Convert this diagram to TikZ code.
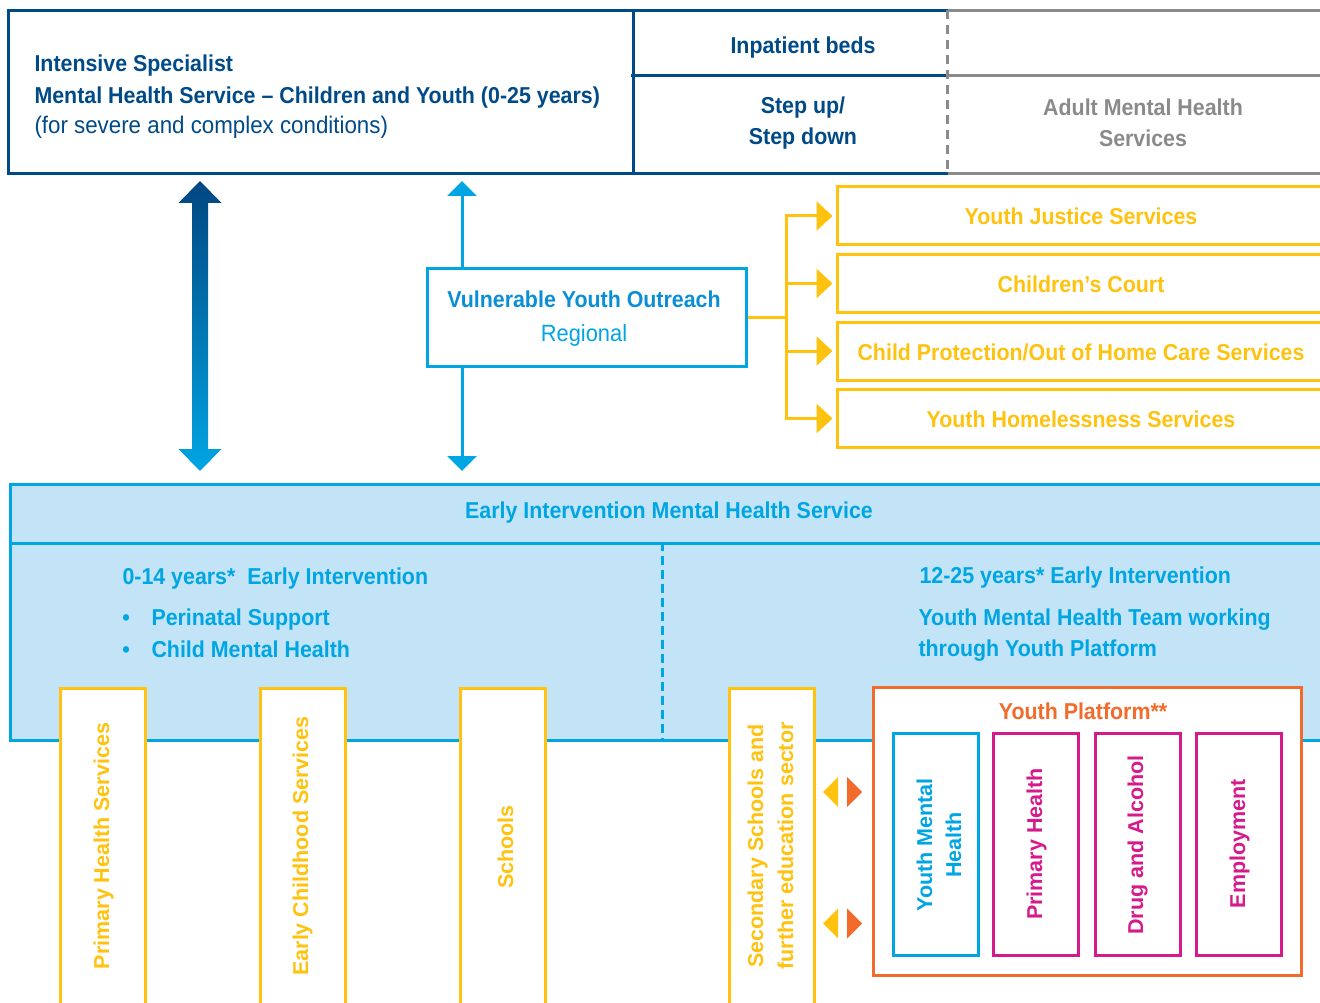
\documentclass[tikz,border=0pt]{standalone}
\usepackage{fontspec}
\setmainfont{Liberation Sans}[FakeStretch=0.93]
\newfontfamily\widefont{Liberation Sans}
\usetikzlibrary{arrows.meta,calc}

\definecolor{navy}{HTML}{004A87}
\definecolor{eicyan}{HTML}{00A5E3}
\definecolor{vyoblue}{HTML}{0A8ED6}
\definecolor{eiblue}{HTML}{C2E4F6}
\definecolor{ygold}{HTML}{FFC20E}
\definecolor{yporange}{HTML}{F26B2B}
\definecolor{ypmagenta}{HTML}{D61A8C}
\definecolor{adultgrey}{HTML}{8A8A8A}

\begin{document}
\begin{tikzpicture}[x=1pt, y=-1pt, line width=3pt,
  box/.style={draw, rectangle, inner sep=0pt},
  lbl/.style={inner sep=0pt, anchor=base, font=\fontsize{23}{27}\selectfont\bfseries},
  reg/.style={inner sep=0pt, anchor=base, font=\fontsize{23.5}{28}\selectfont},
  vlbl/.style={inner sep=0pt, anchor=base, rotate=90, font=\widefont\fontsize{21.5}{30}\selectfont\bfseries},
  tip/.style={-{Triangle[width=29pt,length=15pt]}}]
\useasboundingbox (0,0) rectangle (1320,1003);
\clip (0,0) rectangle (1320,1003);

% intensive specialist row
\node[box, draw=none, minimum width=622pt, minimum height=160pt] (ismhs) at (321,92) {};
\node[box, draw=none, minimum width=314pt, minimum height=62pt] (beds) at (789,43) {};
\node[box, draw=none, minimum width=314pt, minimum height=98pt] (stepup) at (789,123) {};
\draw[navy] (beds.north east) -- (ismhs.north west) -- (ismhs.south west) -- (stepup.south east);
\draw[navy] (ismhs.north east) -- (ismhs.south east);
\draw[navy] (beds.south west) -- (beds.south east);
% adult services, cut at the right
\draw[adultgrey] (beds.north east) -- ++(380,0) (beds.south east) -- ++(380,0)
  (stepup.south east) -- ++(380,0);
\draw[adultgrey, dash pattern=on 9pt off 6pt] (beds.north east) -- (stepup.south east);

\node[lbl, navy, anchor=base west] (ismhs1) at (33,72) {Intensive Specialist};
\node[lbl, navy, anchor=base west] (ismhs2) at (33,104) {Mental Health Service – Children and Youth (0-25 years)};
\node[reg, navy, anchor=base west, font=\fontsize{24}{28}\selectfont] (ismhs3) at (33,134) {(for severe and complex conditions)};
\node[lbl, navy] (bedst) at (803,54) {Inpatient beds};
\node[lbl, navy] (step1) at (803,114) {Step up/};
\node[lbl, navy] (step2) at (803,145) {Step down};
\node[lbl, adultgrey] (adult1) at (1143,116) {Adult Mental Health};
\node[lbl, adultgrey] (adult2) at (1143,147) {Services};

% big two-way arrow
\coordinate (bigtop) at (200,181);
\coordinate (bigbot) at (200,471);
\shade[top color=navy!95!black, bottom color=eicyan] (bigtop) -- ++(21.5,22) -- ++(-13.5,0)
  -- ($(bigbot)+(8,-22)$) -- ++(13.5,0) -- (bigbot) -- ++(-21.5,-22) -- ++(13.5,0)
  -- ($(bigtop)+(-8,22)$) -- ++(-13.5,0) -- cycle;

% vulnerable youth outreach
\node[box, draw=eicyan, minimum width=319pt, minimum height=98pt] (vyo) at (586.5,317) {};
\node[lbl, vyoblue] (vyo1) at (584,307) {Vulnerable Youth Outreach};
\node[reg, eicyan] (vyo2) at (584,341) {Regional};
\coordinate (vtop) at (462,181);
\coordinate (vbot) at (462,471);
\draw[eicyan, tip] (vyo.north -| vtop) -- (vtop);
\draw[eicyan, tip] (vyo.south -| vtop) -- (vbot);

% services on the right
\node[box, draw=ygold, minimum width=488pt, minimum height=58pt] (yjs) at (1081,216) {};
\node[box, draw=ygold, minimum width=488pt, minimum height=58pt] (cc) at (1081,283.5) {};
\node[box, draw=ygold, minimum width=488pt, minimum height=58pt] (cp) at (1081,351) {};
\node[box, draw=ygold, minimum width=488pt, minimum height=58pt] (yhs) at (1081,418.5) {};
\node[lbl, ygold] (yjst) at (1081,225) {Youth Justice Services};
\node[lbl, ygold] (cct) at (1081,292.5) {Children’s Court};
\node[lbl, ygold] (cpt) at (1081,360) {Child Protection/Out of Home Care Services};
\node[lbl, ygold] (yhst) at (1081,427.5) {Youth Homelessness Services};

\coordinate (fork) at ($(vyo.east)+(39,0)$);
\draw[ygold] (vyo.east) -- (fork);
\draw[ygold, line cap=rect] (fork |- yjs.west) -- (fork |- yhs.west);
\foreach \b in {yjs,cc,cp,yhs}
  \draw[ygold, -{Triangle[width=29pt,length=16pt]}, shorten >=3pt] (fork |- \b.west) -- (\b.west);

% early intervention service
\node[box, draw=eicyan, fill=eiblue, minimum width=1320pt, minimum height=59pt] (eimhs) at (670,513.5) {};
\node[box, draw=eicyan, fill=eiblue, minimum width=1320pt, minimum height=197pt] (eiband) at (670,641.5) {};
\coordinate (split) at (662,600);
\draw[eicyan, dash pattern=on 9pt off 5pt] (eiband.north -| split) -- (eiband.south -| split);
\node[lbl, eicyan] (eititle) at (669,518) {Early Intervention Mental Health Service};
\node[lbl, eicyan, anchor=base west] (kids) at (121,584) {0-14 years*\hspace{12pt}Early Intervention};
\node[lbl, eicyan] (dot1) at (126,625) {•};
\node[lbl, eicyan] (dot2) at (126,657) {•};
\node[lbl, eicyan, anchor=base west] (kids1) at (150,625) {Perinatal Support};
\node[lbl, eicyan, anchor=base west] (kids2) at (150,657) {Child Mental Health};
\node[lbl, eicyan, anchor=base west] (youth) at (918,583) {12-25 years* Early Intervention};
\node[lbl, eicyan, anchor=base west] (youth1) at (917,625) {Youth Mental Health Team working};
\node[lbl, eicyan, anchor=base west] (youth2) at (917,656) {through Youth Platform};

% pillars
\node[box, draw=ygold, fill=white, minimum width=85pt, minimum height=322pt] (phs) at (103,849) {};
\node[box, draw=ygold, fill=white, minimum width=85pt, minimum height=322pt] (ecs) at (302.5,849) {};
\node[box, draw=ygold, fill=white, minimum width=85pt, minimum height=322pt] (sch) at (502.5,849) {};
\node[box, draw=ygold, fill=white, minimum width=85pt, minimum height=322pt] (sss) at (772,849) {};
\node[vlbl, ygold] (phst) at (109,846) {Primary Health Services};
\node[vlbl, ygold] (ecst) at (308,846) {Early Childhood Services};
\node[vlbl, ygold] (scht) at (513,847) {Schools};
\node[vlbl, ygold] (ssst1) at (763,846) {Secondary Schools and};
\node[vlbl, ygold] (ssst2) at (793,846) {further education sector};

% links to the youth platform
\foreach \yy in {792,923.5} {
  \fill[ygold] (823,\yy) -- (838,\yy-15) -- (838,\yy+15) -- cycle;
  \fill[yporange] (862,\yy) -- (847,\yy-15) -- (847,\yy+15) -- cycle;
}

% youth platform
\node[box, draw=yporange, fill=white, minimum width=428pt, minimum height=288pt] (yp) at (1087,831) {};
\node[lbl, yporange] (ypt) at (1083,719) {Youth Platform**};
\node[box, draw=eicyan, minimum width=85pt, minimum height=222pt] (ymh) at (935.5,844) {};
\node[box, draw=ypmagenta, minimum width=85pt, minimum height=222pt] (ph) at (1036,844) {};
\node[box, draw=ypmagenta, minimum width=85pt, minimum height=222pt] (da) at (1137.5,844) {};
\node[box, draw=ypmagenta, minimum width=85pt, minimum height=222pt] (emp) at (1238.5,844) {};
\node[vlbl, eicyan] (ymht1) at (932,845) {Youth Mental};
\node[vlbl, eicyan] (ymht2) at (961,845) {Health};
\node[vlbl, ypmagenta] (pht) at (1042,844) {Primary Health};
\node[vlbl, ypmagenta] (dat) at (1143,845) {Drug and Alcohol};
\node[vlbl, ypmagenta] (empt) at (1245,843.5) {Employment};
\end{tikzpicture}
\end{document}
